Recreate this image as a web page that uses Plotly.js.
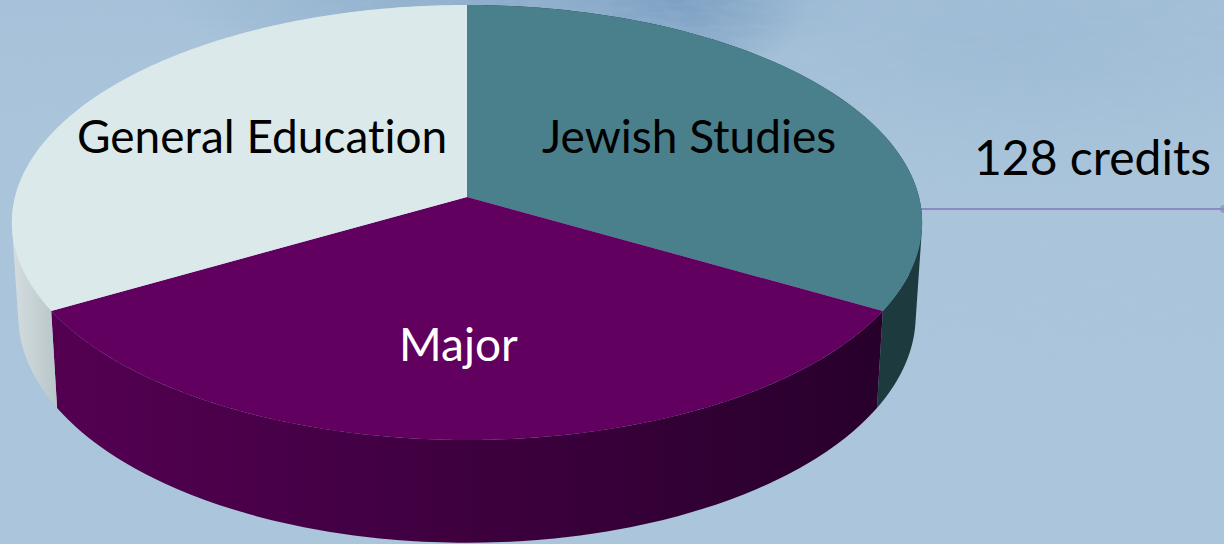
<!DOCTYPE html>
<html><head><meta charset="utf-8">
<script src="https://cdn.plot.ly/plotly-3.0.1.min.js"></script>
<style>
html,body{margin:0;padding:0;width:1224px;height:544px;overflow:hidden;
background:
 radial-gradient(ellipse 130px 90px at 680px 0px, rgba(122,158,194,.9), rgba(122,158,194,0)),
 radial-gradient(ellipse 360px 75px at 520px 0px, rgba(130,165,198,.75), rgba(130,165,198,0)),
 radial-gradient(ellipse 380px 160px at 1010px 40px, rgba(150,182,210,.5), rgba(150,182,210,0)),
 linear-gradient(180deg,#a6c1d9 0px,#aac5db 140px,#abc6dc 544px);}
#tex{position:absolute;left:0;top:0;width:1224px;height:544px;}
#chart{position:absolute;left:0;top:0;width:1224px;height:544px;}
svg text{font-variant-ligatures:none;font-feature-settings:"liga" 0;}
</style></head><body>
<svg id="tex" xmlns="http://www.w3.org/2000/svg"><filter id="paper" x="0" y="0" width="100%" height="100%">
<feTurbulence type="fractalNoise" baseFrequency="0.035 0.16" numOctaves="3" seed="4"/>
<feColorMatrix type="matrix" values="0 0 0 0 0.42  0 0 0 0 0.55  0 0 0 0 0.68  1.6 0 0 0 -0.62"/>
</filter><rect width="1224" height="544" filter="url(#paper)" opacity="0.28"/></svg>
<div id="chart"></div>
<script>
// Data
const categories = ["Jewish Studies", "Major", "General Education"];
const values = [1, 1, 1];
const totalLabel = "128 credits";
const faceColors = ["#4a7f8c", "#62005f", "#dce9eb"];
const wallLeft  = ["#1d3a3e", "#540052", "#d4dddf"];
const wallRight = ["#1d3a3e", "#28002c", "#b9c7ca"];
const wallStart = [880, 50, 12];
const wallStop  = [920, 880, 56];
const labelColors = ["#000000", "#ffffff", "#000000"];
const labelX = [689, 458, 262];
const labelY = [135, 343, 135];

// Projection of the tilted disc onto the page (perspective view)
const CX = 467, K = 0.1172;
const TOP = {y0: 197, A: 452, B: 214.5};
const BOT = {y0: 289, A: 445.6, B: 224};
function project(d, deg){
  const t = deg * Math.PI / 180, u = Math.sin(t), v = Math.cos(t), w = 1 + K * v;
  return [CX + d.A * u / w, d.y0 - d.B * v / w];
}
// convex hull of a few points, always the same winding, so overlaps never cancel
function hull(pts){
  const s = pts.slice().sort((a,b)=>a[0]-b[0]||a[1]-b[1]);
  const cross=(o,a,b)=>(a[0]-o[0])*(b[1]-o[1])-(a[1]-o[1])*(b[0]-o[0]);
  const lo=[], up=[];
  s.forEach(p=>{while(lo.length>1&&cross(lo[lo.length-2],lo[lo.length-1],p)<=0)lo.pop();lo.push(p);});
  s.slice().reverse().forEach(p=>{while(up.length>1&&cross(up[up.length-2],up[up.length-1],p)<=0)up.pop();up.push(p);});
  return lo.slice(0,-1).concat(up.slice(0,-1));
}
const total = values.reduce((a,b)=>a+b,0);
const traces = [];
let start = 0;
const ranges = values.map(v => { const r = [start, start + v / total * 360]; start = r[1]; return r; });

// side walls first
ranges.forEach((r,i) => {
  const x = [], y = [], step = 1;
  for (let a = r[0]; a < r[1] - 1e-6; a += step) {
    const a2 = Math.min(a + step * 2, r[1]);
    const h = hull([project(TOP,a), project(TOP,a2), project(BOT,a2), project(BOT,a)]);
    h.concat([h[0]]).forEach(p=>{x.push(p[0]);y.push(p[1]);});
    x.push(null); y.push(null);
  }
  traces.push({type:"scatter", mode:"none", x, y, fill:"toself", hoverinfo:"skip", showlegend:false,
    line:{simplify:false}, fillcolor: wallRight[i],
    fillgradient:{type:"horizontal", start:wallStart[i], stop:wallStop[i],
      colorscale:[[0,wallLeft[i]],[1,wallRight[i]]]}});
});
// top faces
ranges.forEach((r,i) => {
  const x = [CX], y = [TOP.y0];
  for (let a = r[0]; a <= r[1] + 1e-6; a += 0.5) { const p = project(TOP,a); x.push(p[0]); y.push(p[1]); }
  x.push(CX); y.push(TOP.y0);
  traces.push({type:"scatter", mode:"none", x, y, fill:"toself", fillcolor:faceColors[i],
    name:categories[i], showlegend:false, hoverinfo:"name"});
});
// leader line
const leadX = [921, 1224], leadY = [209, 209];
traces.unshift({type:"scatter", mode:"lines+markers", x:leadX, y:leadY, hoverinfo:"skip", showlegend:false, cliponaxis:false,
  line:{color:"#8a8bc0", width:2}, marker:{size:[0,8], color:"#8a8bc0", line:{width:0}}});

const font = "Lato, 'Open Sans', sans-serif";
const annotations = categories.map((c,i)=>({x:labelX[i], y:labelY[i], text:c, showarrow:false,
  xanchor:"center", yanchor:"middle", font:{family:font, size:46, color:labelColors[i]}}));
annotations.push({x:1092, y:156, text:totalLabel, showarrow:false, xanchor:"center", yanchor:"middle",
  font:{family:font, size:48, color:"#000000"}});

Plotly.newPlot("chart", traces, {
  width:1224, height:544, margin:{l:0,r:0,t:0,b:0},
  paper_bgcolor:"rgba(0,0,0,0)", plot_bgcolor:"rgba(0,0,0,0)",
  xaxis:{range:[0,1224], visible:false, fixedrange:true},
  yaxis:{range:[544,0], visible:false, fixedrange:true},
  annotations, showlegend:false
}, {displayModeBar:false, staticPlot:true});
</script></body></html>
